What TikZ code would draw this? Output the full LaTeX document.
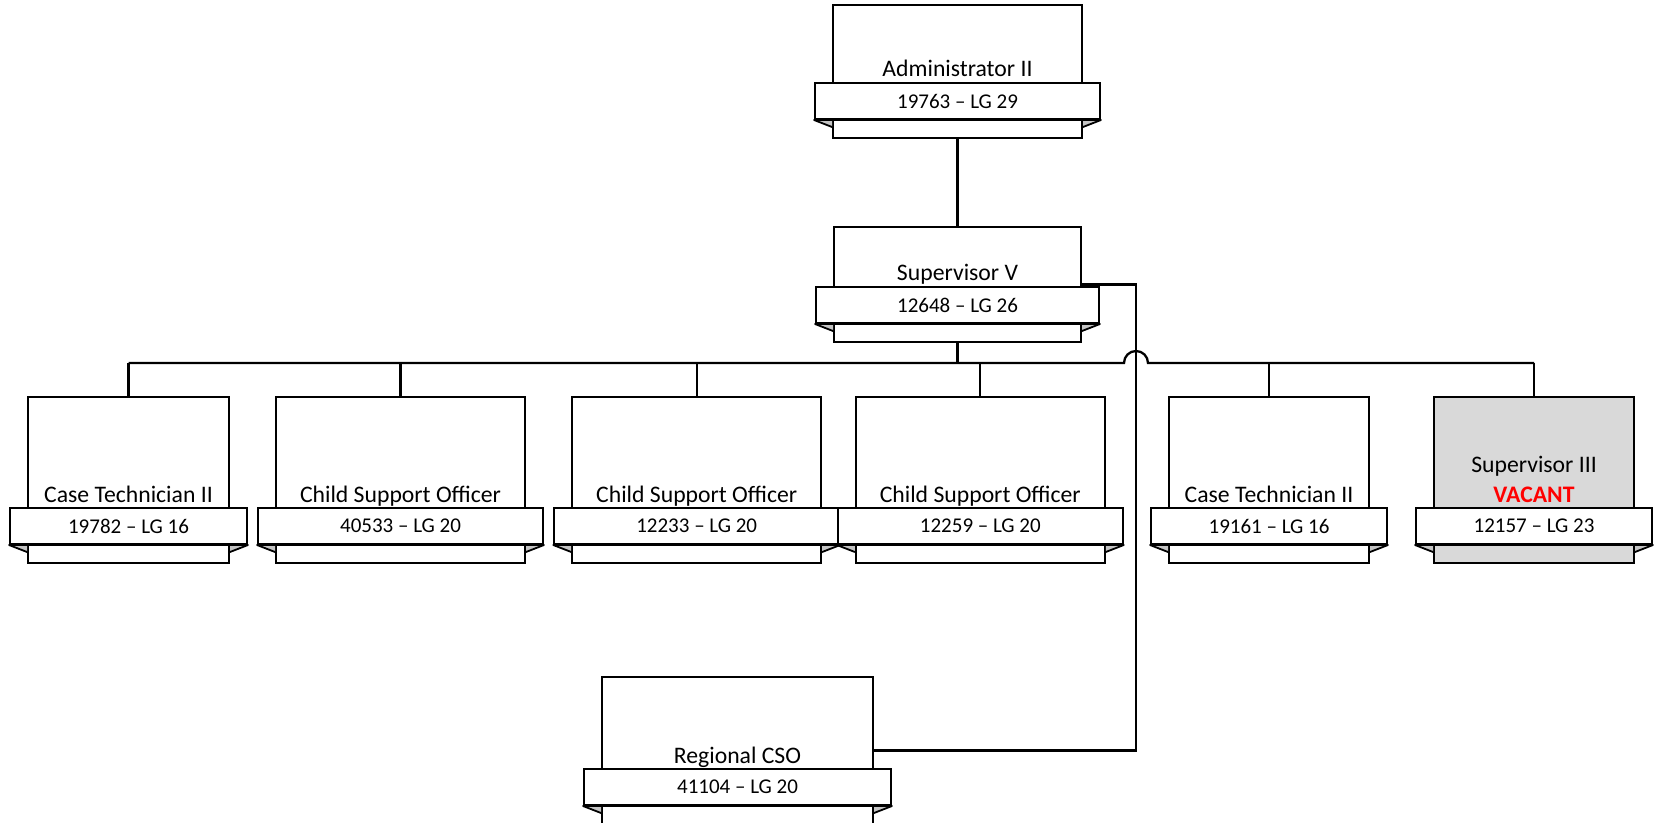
\documentclass[tikz,border=0pt]{standalone}
\usepackage{fontspec}
\setmainfont{Carlito}
\definecolor{foldgray}{HTML}{C4C4C4}
\definecolor{vacgray}{HTML}{D9D9D9}
\definecolor{vacred}{HTML}{FF0000}
\tikzset{
  boxshape/.style={draw=black, line width=1pt, rectangle, inner sep=0pt},
  ribbonshape/.style={draw=black, fill=white, line width=1pt, rectangle, inner sep=0pt},
  titletext/.style={font=\fontsize{11.85pt}{15pt}\selectfont, anchor=base, inner sep=0pt},
  numtext/.style={font=\fontsize{10.5pt}{12pt}\selectfont, inner sep=0pt},
  conn/.style={draw=black, line width=1.15pt},
  foldfill/.style={fill=foldgray},
  foldline/.style={draw=black, line width=0.9pt, line cap=round},
}
% #1 name, #2 centre x, #3 box top, #4 box half width, #5 ribbon top, #6 title, #7 number, #8 fill
\newcommand{\orgunit}[8]{%
  \node[boxshape, fill=#8, minimum width={(2*#4)*0.5pt}, minimum height={(#5+55-#3)*0.5pt}] (#1) at (#2,{(#3+#5+55)/2}) {};
  \node[ribbonshape, minimum width={(2*#4+36)*0.5pt}, minimum height={18pt}] (#1-r) at (#2,{#5+18}) {};
  \fill[foldfill] (#1-r.south west) -- ++(18,0) -- ++(0,7) -- cycle;
  \fill[foldfill] (#1-r.south east) -- ++(-18,0) -- ++(0,7) -- cycle;
  \draw[foldline] (#1-r.south west) -- ++(18,7);
  \draw[foldline] (#1-r.south east) -- ++(-18,7);
  \draw[line width=1pt] (#1-r.south west) -- (#1-r.south east);
  \node[numtext] (#1-n) at (#1-r.center) {#7};
  \node[titletext] (#1-t) at (#2,{#5-6}) {#6};
}
\begin{document}
\begin{tikzpicture}[x=0.5pt, y=-0.5pt]
\useasboundingbox (0,0) rectangle (1659,823);
\clip (0,0) rectangle (1659,823);

\orgunit{admin}{957.5}{5}{124.5}{83}{Administrator II}{19763 – LG 29}{white}
\orgunit{supv}{957.5}{227}{123.5}{287}{Supervisor V}{12648 – LG 26}{white}
\orgunit{ct1}{128.5}{397}{100.5}{508}{Case Technician II}{19782 – LG 16}{white}
\orgunit{cso1}{400.5}{397}{124.5}{508}{Child Support Officer}{40533 – LG 20}{white}
\orgunit{cso2}{696.7}{397}{124.5}{508}{Child Support Officer}{12233 – LG 20}{white}
\orgunit{cso3}{980.3}{397}{124.5}{508}{Child Support Officer}{12259 – LG 20}{white}
\orgunit{ct2}{1269}{397}{100}{508}{Case Technician II}{19161 – LG 16}{white}
\orgunit{sup3}{1534}{397}{100}{508}{\textbf{\color{vacred}VACANT}}{12157 – LG 23}{vacgray}
\node[titletext] (sup3-t2) at (1534,473) {Supervisor III};
\orgunit{reg}{737.5}{677}{135.5}{769}{Regional CSO}{41104 – LG 20}{white}

\coordinate (bus) at (957.5,363);
\coordinate (jx) at (1136,363);
\draw[conn] (admin.south) -- (supv.north);
\draw[conn] (supv.south) -- (bus);
\draw[conn] (bus -| ct1.north) -- ([xshift=-6pt]jx) arc[start angle=180, end angle=0, radius=6pt] -- (bus -| sup3.north);
\foreach \c in {ct1,cso1,cso2,cso3,ct2,sup3}{
  \draw[conn] (bus -| \c.north) -- (\c.north);
}
\draw[conn] (supv.east) -| (jx |- reg.east) -- (reg.east);
\end{tikzpicture}
\end{document}
